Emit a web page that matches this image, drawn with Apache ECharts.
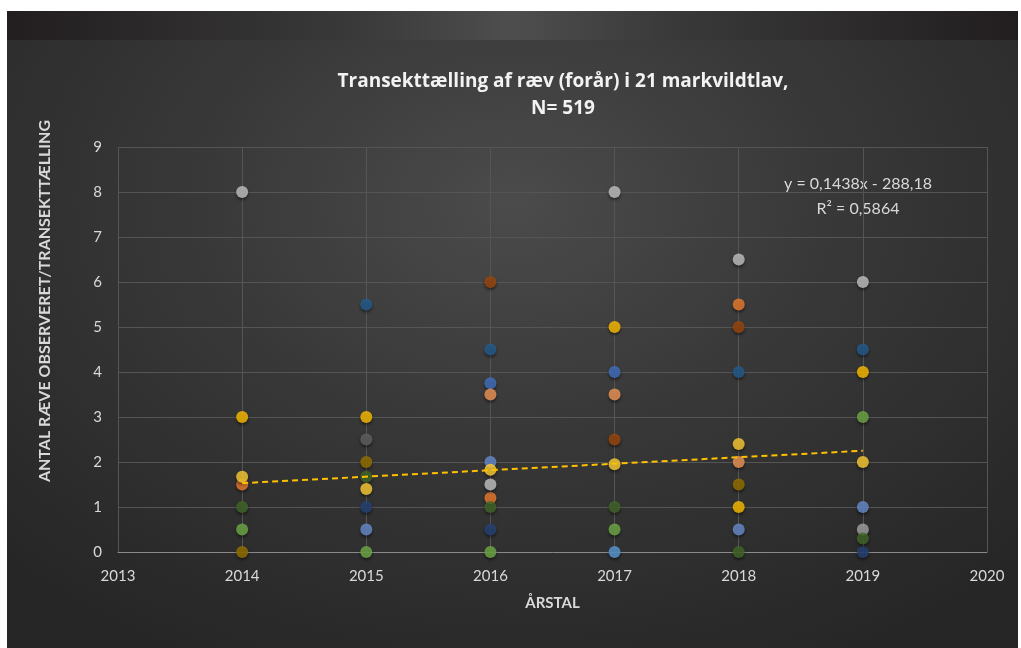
<!DOCTYPE html>
<html>
<head>
<meta charset="utf-8">
<script src="https://cdn.jsdelivr.net/npm/echarts@6/dist/echarts.min.js"></script>
<style>
    html, body { margin: 0; padding: 0; background: #ffffff; }
    #panel {
        position: absolute; left: 7px; top: 11px; width: 1011px; height: 637px;
        background: radial-gradient(ellipse 70% 80% at 50% 30%, #4b4b4b 0%, #383838 45%, #262626 100%);
    }
    #band {
        position: absolute; left: 7px; top: 11px; width: 1011px; height: 29px;
        background: linear-gradient(to right, #221e1f 0%, #3a3a3a 35%, #4e4e4e 50%, #3a3a3a 65%, #221e1f 100%);
    }
    #main { position: absolute; left: 0; top: 0; width: 1021px; height: 648px; }
</style>
</head>
<body>
<div id="panel"></div>
<div id="band"></div>
<div id="main"></div>
<script>
// år på x-aksen
var years = [2014, 2015, 2016, 2017, 2018, 2019];
var xTicks = [2013, 2014, 2015, 2016, 2017, 2018, 2019, 2020];

// antal ræve pr. transekttælling, en række pr. farve (null = ikke synlig)
var lav01 = [null, null, 3.75, 4, null, null];
var lav02 = [1.5, null, 1.2, null, 5.5, null];
var lav03 = [null, null, null, null, null, 0.5];
var lav04 = [3, 3, null, 5, 1, 4];
var lav05 = [null, null, null, 0, null, null];
var lav06 = [0.5, 0, 0, 0.5, null, 3];
var lav07 = [null, 1, 0.5, null, null, 0];
var lav08 = [null, null, 6, 2.5, 5, null];
var lav09 = [null, 2.5, null, null, null, null];
var lav10 = [0, 2, null, null, 1.5, null];
var lav11 = [null, 5.5, 4.5, null, 4, 4.5];
var lav12 = [1, 1.67, 1, 1, 0, 0.3];
var lav13 = [null, 0.5, 2, null, 0.5, 1];
var lav14 = [null, null, 3.5, 3.5, 2, null];
var lav15 = [8, null, 1.5, 8, 6.5, 6];
var lav16 = [1.67, 1.4, 1.83, 1.95, 2.4, 2];

// lineær tendenslinje (aflæst ved 2014 og 2019)
var trendX = [2014, 2019];
var trendY = [1.53, 2.25];

var allLav = [lav01, lav02, lav03, lav04, lav05, lav06, lav07, lav08,
    lav09, lav10, lav11, lav12, lav13, lav14, lav15, lav16];
var palette = ["#4472C4", "#ED7D31", "#A5A5A5", "#FFC000", "#5B9BD5", "#70AD47",
    "#264478", "#9E480E", "#636363", "#997300", "#255E91", "#43682B",
    "#698ED0", "#F1975A", "#C4C4C4", "#FFD035"];

var textColor = "#d9d9d9";
var font = "Lato, 'Open Sans', sans-serif";

var series = [];
for (let i = 0; i < allLav.length; i++) {
    var pts = [];
    for (let j = 0; j < years.length; j++) {
        if (allLav[i][j] !== null) pts.push([years[j], allLav[i][j]]);
    }
    series.push({
        name: "Lav " + (i + 1),
        type: "scatter",
        symbolSize: 12,
        data: pts,
        itemStyle: {
            color: palette[i],
            shadowColor: "rgba(0,0,0,0.6)",
            shadowBlur: 3,
            shadowOffsetY: 2
        },
        z: 3
    });
}
series.push({
    name: "Tendens",
    type: "line",
    symbol: "none",
    data: trendX.map(function (x, k) { return [x, trendY[k]]; }),
    lineStyle: { color: "#FFC000", width: 2, type: [6, 4] },
    z: 4
});

var myChart = echarts.init(document.getElementById("main"));
myChart.setOption({
    backgroundColor: "transparent",
    animation: false,
    title: {
        text: "Transekttælling af ræv (forår) i 21 markvildtlav,\nN= 519",
        left: 558,
        top: 63,
        textAlign: "center",
        textStyle: { color: "#f2f2f2", fontSize: 19, fontWeight: "bold", fontFamily: "'Open Sans', sans-serif", lineHeight: 27 }
    },
    grid: { left: 118, right: 34, top: 147, bottom: 96 },
    xAxis: {
        type: "value",
        min: xTicks[0],
        max: xTicks[xTicks.length - 1],
        interval: 1,
        name: "ÅRSTAL",
        nameLocation: "middle",
        nameGap: 44,
        nameTextStyle: { color: textColor, fontSize: 15, fontWeight: "bold", fontFamily: font },
        axisLine: { show: true, lineStyle: { color: "#8a8a8a", width: 1 } },
        axisTick: { show: false },
        axisLabel: { color: textColor, fontSize: 15, margin: 17, fontFamily: font, formatter: function (v) { return String(v); } },
        splitLine: { show: true, lineStyle: { color: "#555555", width: 1 } }
    },
    yAxis: {
        type: "value",
        min: 0,
        max: 9,
        interval: 1,
        axisLine: { show: false },
        axisTick: { show: false },
        axisLabel: { color: textColor, fontSize: 15, margin: 16, fontFamily: font },
        splitLine: { show: true, lineStyle: { color: "#555555", width: 1 } }
    },
    graphic: [
        {
            type: "text",
            left: 37,
            top: 120,
            rotation: Math.PI / 2,
            style: {
                text: "ANTAL RÆVE OBSERVERET/TRANSEKTTÆLLING",
                fill: textColor,
                font: "bold 16px " + font,
                align: "right",
                verticalAlign: "top"
            }
        },
        {
            type: "text",
            x: 858,
            y: 184,
            style: {
                text: "y = 0,1438x - 288,18",
                fill: textColor,
                font: "16px " + font,
                align: "center",
                verticalAlign: "middle"
            }
        },
        {
            type: "text",
            x: 858,
            y: 209,
            style: {
                text: "R² = 0,5864",
                fill: textColor,
                font: "16px " + font,
                align: "center",
                verticalAlign: "middle"
            }
        }
    ],
    series: series
});
</script>
</body>
</html>
